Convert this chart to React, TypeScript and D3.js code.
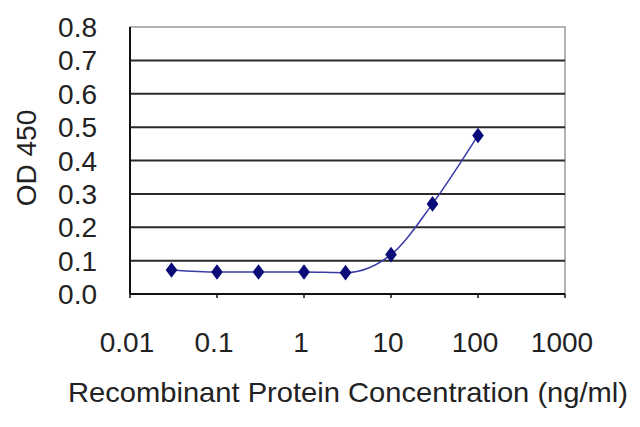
import * as d3 from "d3";
import React from "react";

// concentration (ng/ml) and OD 450 readings
const concentrations = [0.03, 0.1, 0.3, 1, 3, 10, 30, 100];
const odValues = [0.072, 0.066, 0.066, 0.066, 0.064, 0.118, 0.27, 0.475];
const xTicks = [0.01, 0.1, 1, 10, 100, 1000];
const xTickLabels = ["0.01", "0.1", "1", "10", "100", "1000"];
const yTicks = [0, 0.1, 0.2, 0.3, 0.4, 0.5, 0.6, 0.7, 0.8];

export default function App() {
  const ref = React.useRef<SVGSVGElement>(null);

  React.useEffect(() => {
    if (!ref.current) return;
    const svg = d3.select(ref.current);
    svg.selectAll("*").remove();

    const margin = { top: 27, right: 75, bottom: 133, left: 130 };
    const width = 640 - margin.left - margin.right;
    const height = 427 - margin.top - margin.bottom;
    const font = "'Liberation Sans', Arial, sans-serif";

    const x = d3.scaleLog().domain([0.01, 1000]).range([0, width]);
    const y = d3.scaleLinear().domain([0, 0.8]).range([height, 0]);

    const g = svg
      .append("g")
      .attr("transform", `translate(${margin.left},${margin.top})`);

    // frame (top + right) in grey
    g.append("rect")
      .attr("width", width)
      .attr("height", height)
      .attr("fill", "white")
      .attr("stroke", "#9a9a9a")
      .attr("stroke-width", 1.5);

    // grid lines
    g.selectAll("line.grid")
      .data(yTicks.filter((d) => d > 0 && d < 0.8))
      .enter()
      .append("line")
      .attr("class", "grid")
      .attr("x1", 0)
      .attr("x2", width)
      .attr("y1", (d) => y(d))
      .attr("y2", (d) => y(d))
      .attr("stroke", "#2a2a2a")
      .attr("stroke-width", 2);

    // axes
    g.append("line")
      .attr("x1", 0)
      .attr("x2", 0)
      .attr("y1", 0)
      .attr("y2", height)
      .attr("stroke", "#111")
      .attr("stroke-width", 2);
    g.append("line")
      .attr("x1", 0)
      .attr("x2", width)
      .attr("y1", height)
      .attr("y2", height)
      .attr("stroke", "#111")
      .attr("stroke-width", 2);

    // x tick marks
    g.selectAll("line.xtick")
      .data(xTicks)
      .enter()
      .append("line")
      .attr("class", "xtick")
      .attr("x1", (d) => x(d))
      .attr("x2", (d) => x(d))
      .attr("y1", height)
      .attr("y2", height + 4)
      .attr("stroke", "#111")
      .attr("stroke-width", 1.5);

    // y tick labels
    g.selectAll("text.ylab")
      .data(yTicks)
      .enter()
      .append("text")
      .attr("class", "ylab")
      .attr("x", -33)
      .attr("y", (d) => y(d))
      .attr("dy", "0.36em")
      .attr("text-anchor", "end")
      .attr("font-family", font)
      .attr("font-size", 28)
      .attr("fill", "#222")
      .text((d) => d.toFixed(1));

    // x tick labels
    g.selectAll("text.xlab")
      .data(xTicks)
      .enter()
      .append("text")
      .attr("class", "xlab")
      .attr("x", (d) => x(d) - 3)
      .attr("y", height + 58)
      .attr("text-anchor", "middle")
      .attr("font-family", font)
      .attr("font-size", 28)
      .attr("fill", "#222")
      .text((_, i) => xTickLabels[i]);

    // axis titles
    svg
      .append("text")
      .attr("transform", `translate(36,158) rotate(-90)`)
      .attr("text-anchor", "middle")
      .attr("font-family", font)
      .attr("font-size", 28)
      .attr("fill", "#222")
      .text("OD 450");

    svg
      .append("text")
      .attr("x", 68)
      .attr("y", 402)
      .attr("textLength", 560)
      .attr("lengthAdjust", "spacingAndGlyphs")
      .attr("font-family", font)
      .attr("font-size", 28)
      .attr("fill", "#222")
      .text("Recombinant Protein Concentration (ng/ml)");

    const pts = concentrations.map((c, i) => [c, odValues[i]] as [number, number]);

    const line = d3
      .line<[number, number]>()
      .x((d) => x(d[0]))
      .y((d) => y(d[1]))
      .curve(d3.curveMonotoneX);

    g.append("path")
      .datum(pts)
      .attr("fill", "none")
      .attr("stroke", "#3a3aa8")
      .attr("stroke-width", 1.5)
      .attr("d", line);

    const diamond = d3.symbol().type(d3.symbolDiamond).size(70);
    g.selectAll("path.pt")
      .data(pts)
      .enter()
      .append("path")
      .attr("class", "pt")
      .attr("transform", (d) => `translate(${x(d[0])},${y(d[1])}) scale(1.3,1)`)
      .attr("d", diamond)
      .attr("fill", "#0a0a78");
  }, []);

  return (
    <svg
      ref={ref}
      width={640}
      height={427}
      style={{ position: "absolute", left: 0, top: 0, background: "white" }}
    />
  );
}
